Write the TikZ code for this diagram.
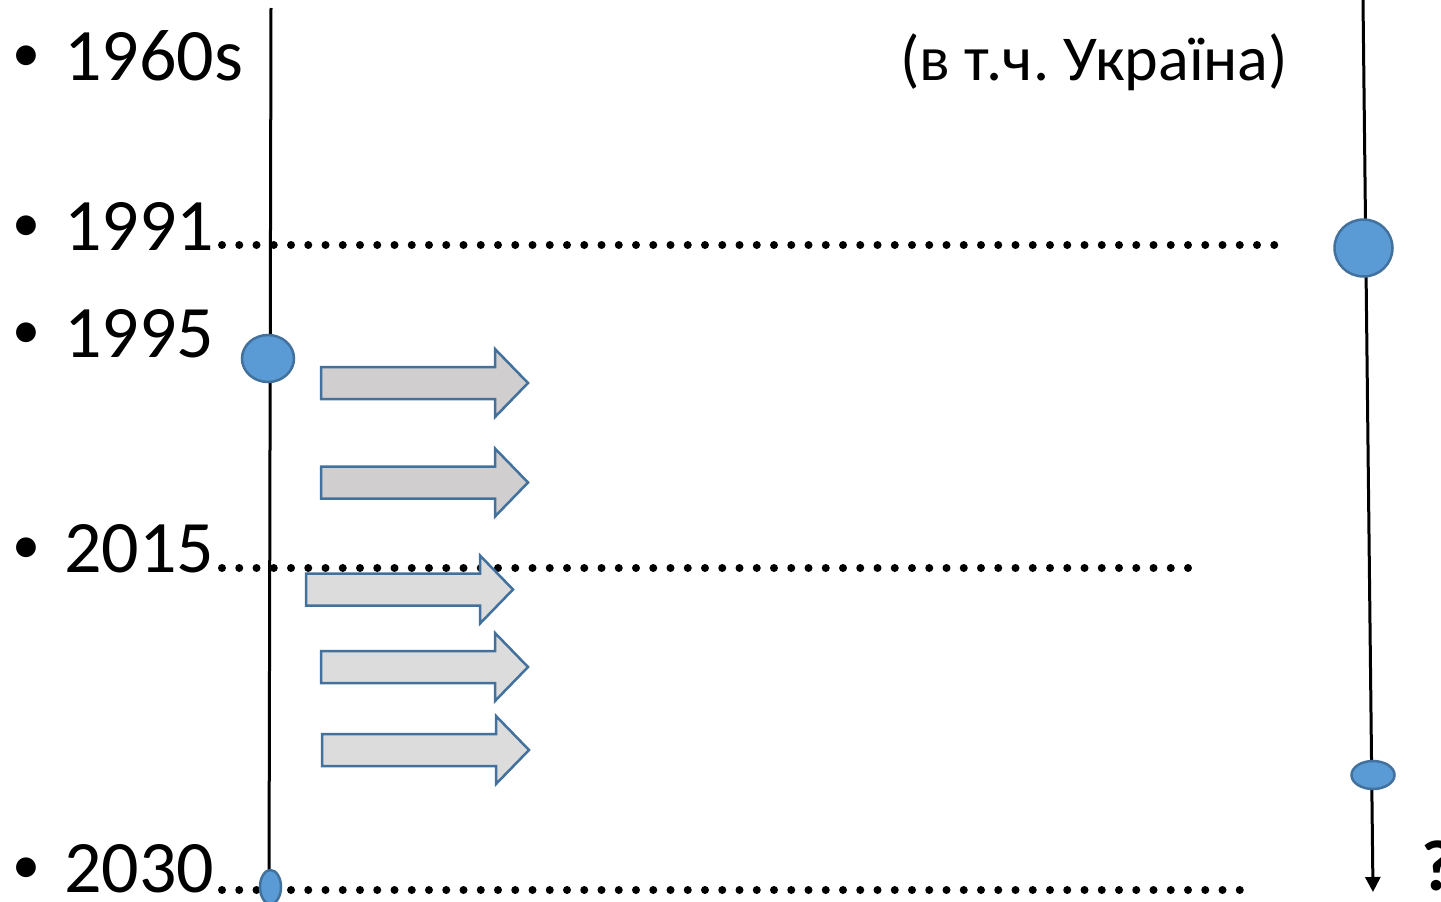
\documentclass[tikz,border=0pt]{standalone}
\usepackage{fontspec}
\setmainfont{Carlito}
\usepackage{tikz}
\usetikzlibrary{arrows.meta,positioning,shapes.geometric,backgrounds}

\definecolor{markfill}{HTML}{5B9BD5}
\definecolor{markedge}{HTML}{41719C}
\definecolor{arrdark}{HTML}{D0CECE}
\definecolor{arrlight}{HTML}{DCDCDC}

\newcommand{\yearfont}{\fontsize{74}{90}\selectfont}
\newcommand{\yearbullet}{\makebox[52pt][l]{\fontsize{56}{56}\selectfont\raisebox{9pt}{•}}}

\begin{document}
\frenchspacing
\begin{tikzpicture}[
  x=1pt, y=-1pt,
  yearlabel/.style={anchor=base west, inner sep=0pt, font=\yearfont},
  dotrow/.style={line width=8pt, line cap=round, dash pattern=on 0pt off 17.25pt},
  timeline/.style={line width=3pt},
  markdot/.style={ellipse, draw=markedge, fill=markfill, line width=2.5pt, inner sep=0pt},
  blockarr/.pic={
    \path[draw=markedge, line width=2.5pt, pic actions]
      (0,-16) -- (174,-16) -- (174,-34) -- (207,0) -- (174,34) -- (174,16) -- (0,16) -- cycle;
  }
]
  \useasboundingbox (0,0) rectangle (1441,902);

  % Year labels
  \node[yearlabel] (y1960) at (12,80) {\yearbullet 1960s};
  \node[yearlabel] (y1991) at (12,250) {\yearbullet 1991};
  \node[yearlabel] (y1995) at (12,357) {\yearbullet 1995};
  \node[yearlabel] (y2015) at (12,572) {\yearbullet 2015};
  \node[yearlabel] (y2030) at (12,892) {\yearbullet 2030};

  \node[anchor=base west, inner sep=0pt, font=\fontsize{64}{70}\selectfont] (region) at (900,80) {(в т.ч. Україна)};
  \node[anchor=base west, inner sep=0pt, font=\fontsize{72}{80}\selectfont\bfseries] (query) at (1421,890) {?};

  % Dotted leaders
  \coordinate (d1991s) at (222,245);  \coordinate (d1991e) at (1275,245);
  \coordinate (d2015s) at (222,568);  \coordinate (d2015e) at (1189,568);
  \coordinate (d2030s) at (222,890);  \coordinate (d2030e) at (1241,890);
  \draw[dotrow] (d1991s) -- (d1991e);
  \draw[dotrow] (d2015s) -- (d2015e);
  \draw[dotrow] (d2030s) -- (d2030e);

  % Time axes
  \coordinate (ltop) at (271,8);   \coordinate (lbot) at (269,890);
  \coordinate (rtop) at (1363,0);  \coordinate (rend) at (1373,892);
  \draw[timeline] (ltop) -- (lbot);
  \draw[timeline, -{Triangle[length=15pt,width=15pt]}] (rtop) -- (rend);

  % Marks on the axes
  \node[markdot, minimum width=52pt, minimum height=47pt] (m1995) at (268,358.5) {};
  \node[markdot, minimum width=21pt, minimum height=34pt] (m2030) at (270.5,887) {};
  \node[markdot, minimum width=58pt, minimum height=57pt] (m1991) at (1363.5,248) {};
  \node[markdot, minimum width=43pt, minimum height=28pt] (mlate) at (1373,775) {};

  % Block arrows
  \pic[fill=arrdark] (arrA) at (321,383) {blockarr};
  \pic[fill=arrdark] (arrB) at (321,482.5) {blockarr};
  \pic[fill=arrlight] (arrC) at (306,589.5) {blockarr};
  \pic[fill=arrlight] (arrD) at (321,667) {blockarr};
  \pic[fill=arrlight] (arrE) at (322,750) {blockarr};
\end{tikzpicture}
\end{document}
